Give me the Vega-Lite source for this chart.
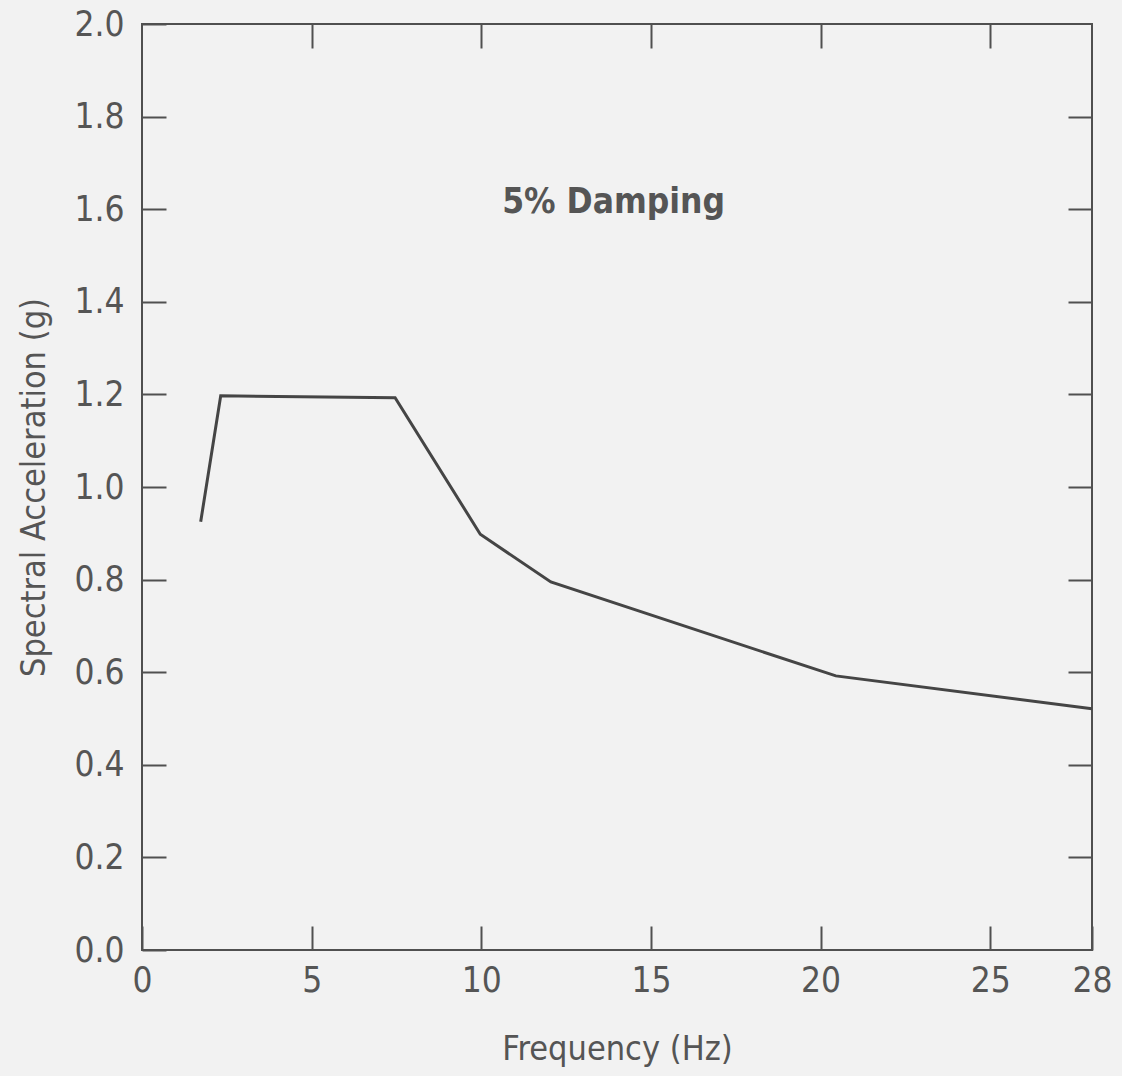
{
  "$schema": "https://vega.github.io/schema/vega-lite/v6.json",
  "width": 950,
  "height": 926,
  "autosize": {"type": "none"},
  "padding": {"left": 142, "top": 24, "right": 30, "bottom": 126},
  "background": "#f2f2f2",
  "config": {
    "font": "DejaVu Sans Condensed, Roboto, sans-serif",
    "view": {"stroke": "#505050", "strokeWidth": 2},
    "axis": {
      "grid": false,
      "domain": false,
      "tickColor": "#505050",
      "tickWidth": 2,
      "tickSize": -24,
      "labelColor": "#555555",
      "labelFontSize": 35,
      "labelFont": "DejaVu Sans Condensed, Roboto, sans-serif",
      "titleFont": "DejaVu Sans Condensed, Roboto, sans-serif",
      "titleColor": "#555555",
      "titleFontSize": 34,
      "titleFontWeight": "normal"
    }
  },
  "datasets": {
    "curve": [
      {"freq": 1.73, "sa": 0.925},
      {"freq": 2.32, "sa": 1.197},
      {"freq": 7.46, "sa": 1.193},
      {"freq": 9.97, "sa": 0.898},
      {"freq": 12.05, "sa": 0.795},
      {"freq": 20.45, "sa": 0.592},
      {"freq": 28.0, "sa": 0.521}
    ],
    "note": [{"freq": 13.9, "sa": 1.592, "label": "5% Damping"}]
  },
  "layer": [
    {
      "data": {"name": "curve"},
      "mark": {"type": "line", "color": "#454545", "strokeWidth": 3},
      "encoding": {
        "x": {
          "field": "freq", "type": "quantitative",
          "scale": {"domain": [0, 28], "nice": false, "zero": false},
          "axis": {"orient": "bottom", "values": [0, 5, 10, 15, 20, 25, 28], "labelPadding": 37, "title": "Frequency (Hz)", "titlePadding": 34, "labelFlush": false}
        },
        "y": {
          "field": "sa", "type": "quantitative",
          "scale": {"domain": [0, 2], "nice": false},
          "axis": {"orient": "left", "values": [0, 0.2, 0.4, 0.6, 0.8, 1.0, 1.2, 1.4, 1.6, 1.8, 2.0], "format": ".1f", "labelPadding": 42, "title": "Spectral Acceleration (g)", "titlePadding": 22, "labelFlush": false}
        }
      }
    },
    {
      "data": {"name": "curve"},
      "mark": {"type": "line", "opacity": 0},
      "encoding": {
        "x": {
          "field": "freq", "type": "quantitative",
          "axis": {"orient": "top", "values": [5, 10, 15, 20, 25], "labels": false, "title": null}
        },
        "y": {
          "field": "sa", "type": "quantitative",
          "axis": {"orient": "right", "values": [0.2, 0.4, 0.6, 0.8, 1.0, 1.2, 1.4, 1.6, 1.8], "labels": false, "title": null}
        }
      }
    },
    {
      "data": {"name": "note"},
      "mark": {"type": "text", "font": "DejaVu Sans Condensed, Roboto, sans-serif", "fontWeight": "bold", "fontSize": 35, "color": "#555555", "align": "center", "baseline": "alphabetic"},
      "encoding": {
        "x": {"field": "freq", "type": "quantitative", "axis": null},
        "y": {"field": "sa", "type": "quantitative", "axis": null},
        "text": {"field": "label"}
      }
    }
  ],
  "resolve": {"axis": {"x": "independent", "y": "independent"}}
}
